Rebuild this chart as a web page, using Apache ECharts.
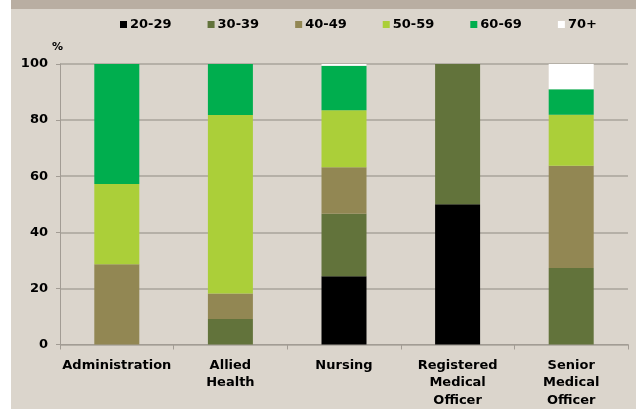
<!DOCTYPE html>
<html>
<head>
<meta charset="utf-8">
<script src="https://cdn.jsdelivr.net/npm/echarts@6/dist/echarts.min.js"></script>
<style>
  html, body { margin: 0; padding: 0; background: #ffffff; }
  #chart { width: 636px; height: 409px; }
</style>
</head>
<body>
<div id="chart"></div>
<script>
// Staff age profile by occupation group (% of staff in each age band)
const categories = ['Administration', 'Allied\nHealth', 'Nursing', 'Registered\nMedical\nOfficer', 'Senior\nMedical\nOfficer'];
const ageBands = ['20-29', '30-39', '40-49', '50-59', '60-69', '70+'];
const age20_29 = [0, 0, 24.3, 50.0, 0];
const age30_39 = [0, 9.1, 22.3, 50.0, 27.3];
const age40_49 = [28.6, 9.1, 16.6, 0, 36.4];
const age50_59 = [28.6, 63.6, 20.3, 0, 18.2];
const age60_69 = [42.8, 18.2, 15.9, 0, 9.1];
const age70plus = [0, 0, 0.6, 0, 9.0];
const yTicks = [0, 20, 40, 60, 80, 100];

const bandValues = [age20_29, age30_39, age40_49, age50_59, age60_69, age70plus];
const bandColors = ['#000000', '#62733b', '#928753', '#abcf39', '#00ae4e', '#ffffff'];

const font = '"DejaVu Sans", Verdana, sans-serif';
const chart = echarts.init(document.getElementById('chart'), null, { renderer: 'canvas' });

chart.setOption({
  backgroundColor: '#ffffff',
  animation: false,
  graphic: [
    { type: 'rect', left: 11, top: 0, z: -10, shape: { width: 625, height: 409 }, style: { fill: '#dbd5cc' } },
    { type: 'rect', left: 11, top: 0, z: -9, shape: { width: 625, height: 9 }, style: { fill: '#b9aea2' } }
  ],
  legend: {
    data: ageBands,
    left: 120,
    top: 18,
    padding: 0,
    itemWidth: 7,
    itemHeight: 7,
    itemGap: 36,
    icon: 'rect',
    textStyle: { fontFamily: font, fontWeight: 'bold', fontSize: 13, color: '#000', padding: [0, 0, 0, -2] }
  },
  grid: { left: 60, right: 8, top: 64, bottom: 64 },
  xAxis: {
    type: 'category',
    data: categories,
    axisLine: { lineStyle: { color: '#a29c94', width: 1 } },
    axisTick: { show: true, length: 5, lineStyle: { color: '#a29c94' } },
    axisLabel: {
      interval: 0,
      margin: 12,
      fontFamily: font,
      fontWeight: 'bold',
      fontSize: 13,
      lineHeight: 17.5,
      color: '#000'
    }
  },
  yAxis: {
    type: 'value',
    min: yTicks[0],
    max: yTicks[yTicks.length - 1],
    interval: 20,
    name: '%',
    nameLocation: 'end',
    nameGap: 11,
    nameTextStyle: { fontFamily: font, fontWeight: 'bold', fontSize: 11, color: '#000', align: 'right', padding: [0, -3, 0, 0] },
    axisLine: { show: true, lineStyle: { color: '#a29c94', width: 1 } },
    axisTick: { show: true, length: 4, lineStyle: { color: '#a29c94' } },
    splitLine: { show: true, lineStyle: { color: '#a9a39b', width: 1.5 } },
    axisLabel: { margin: 12, fontFamily: font, fontWeight: 'bold', fontSize: 13, color: '#000' }
  },
  series: ageBands.map((name, i) => ({
    name: name,
    type: 'bar',
    stack: 'age',
    barWidth: 45,
    data: bandValues[i],
    itemStyle: { color: bandColors[i] }
  }))
});
</script>
</body>
</html>
